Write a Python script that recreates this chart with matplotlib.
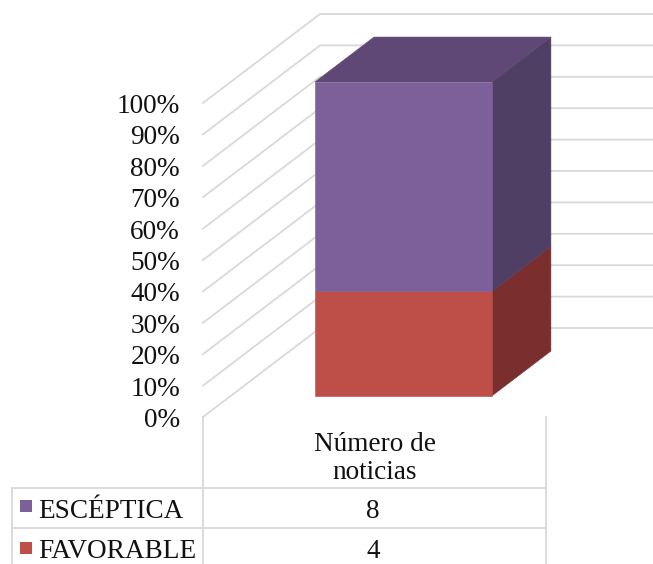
import matplotlib.pyplot as plt
from matplotlib.patches import Polygon, Rectangle

category = ['Número de\nnoticias']
series_names = ['ESCÉPTICA', 'FAVORABLE']
series_values = [8, 4]
pct_ticks = [0, 10, 20, 30, 40, 50, 60, 70, 80, 90, 100]

PX_PER_PCT = 3.14
WALL_X = 203
FLOOR_Y = 417
DEPTH_X = 117
DEPTH_Y = 89 / PX_PER_PCT
GRID = '#d9d9d9'
TABLE = '#d9d9d9'


def project(x, pct, depth):
    # depth 0 is the front of the floor, depth 1 is the back wall
    return x + depth * DEPTH_X, pct + depth * DEPTH_Y


def face(ax, pts, color):
    ax.add_patch(Polygon(pts, fc=color, ec=color, lw=0.4, zorder=3))


def draw_segment(ax, x0, x1, d0, d1, low, high, front, side, top=None):
    face(ax, [project(x1, low, d0), project(x1, low, d1),
              project(x1, high, d1), project(x1, high, d0)], side)
    if top:
        face(ax, [project(x0, high, d0), project(x1, high, d0),
                  project(x1, high, d1), project(x0, high, d1)], top)
    face(ax, [project(x0, low, d0), project(x1, low, d0),
              project(x1, high, d0), project(x0, high, d0)], front)


def generate_chart():
    fig = plt.figure(figsize=(6.53, 5.64), dpi=100)
    ax = fig.add_axes([0, 0, 1, 1])
    # x is in pixels, y is in percent
    ax.set_xlim(0, 653)
    ax.set_ylim((FLOOR_Y - 564) / PX_PER_PCT, FLOOR_Y / PX_PER_PCT)
    ax.axis('off')
    font = dict(family='Liberation Serif', fontsize=19.6, color='#111111')

    # walls
    for p in pct_ticks:
        x0, y0 = project(WALL_X, p, 0)
        x1, y1 = project(WALL_X, p, 1)
        ax.plot([x0, x1, 653], [y0, y1, y1], color=GRID, lw=1.3, zorder=1,
                solid_joinstyle='miter')
        ax.text(180, p - 1.1, f'{p}%', ha='right', va='center', **font)

    # stacked bar, favorable at the bottom
    total = sum(series_values)
    fav = series_values[1] / total * 100
    draw_segment(ax, 287.3, 464.2, 0.236, 0.741, 0, fav, '#BE4E48', '#7A2F2E')
    draw_segment(ax, 287.3, 464.2, 0.236, 0.741, fav, 100, '#7D6099', '#503F65', '#5F4876')

    # data table under the chart
    def ypx(v):
        return (FLOOR_Y - v) / PX_PER_PCT

    ax.plot([WALL_X, WALL_X], [ypx(417), ypx(564)], color=TABLE, lw=1.3)
    ax.plot([545.5, 545.5], [ypx(417), ypx(564)], color=TABLE, lw=1.3)
    ax.plot([12, 12], [ypx(487.5), ypx(564)], color=TABLE, lw=1.3)
    ax.plot([12, 545.5], [ypx(487.5), ypx(487.5)], color=TABLE, lw=1.3)
    ax.plot([12, 545.5], [ypx(527.5), ypx(527.5)], color=TABLE, lw=1.3)

    ax.text(374.5, ypx(458.5), category[0], ha='center', va='center',
            linespacing=1.15, **font)

    colors = ['#7D6099', '#BE4E48']
    rows = [511, 552]
    keys = [506, 548]
    for name, val, col, row, key in zip(series_names, series_values, colors, rows, keys):
        ax.add_patch(Rectangle((20, ypx(key + 6)), 12, 12 / PX_PER_PCT, fc=col, ec='none'))
        ax.text(38, ypx(row), name, ha='left', va='center', **font)
        ax.text(373, ypx(row), str(val), ha='center', va='center', **font)

    fig.savefig('out.png', dpi=100)
    plt.close(fig)


if __name__ == "__main__":
    generate_chart()
